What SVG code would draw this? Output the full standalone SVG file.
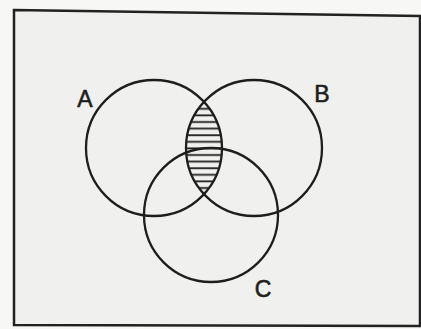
<svg xmlns="http://www.w3.org/2000/svg" width="421" height="329" viewBox="0 0 421 329">
<defs>
<style>
.c{fill:none;stroke:#1e1e1e;stroke-width:2.3}
.lbl{font-family:"Liberation Sans",Arial,sans-serif;font-size:23px;fill:#1e1e1e;stroke:#1e1e1e;stroke-width:0.6;text-anchor:middle}
</style>
<pattern id="hatch" patternUnits="userSpaceOnUse" width="10" height="6.6" y="2">
<line x1="0" y1="1.2" x2="10" y2="1.2" stroke="#1e1e1e" stroke-width="1.8"/>
</pattern>
<clipPath id="clipA"><circle cx="154" cy="148" r="68"/></clipPath>
</defs>
<rect width="421" height="329" fill="#f7f7f5"/>
<polygon points="14,10 420,16 420,326 14,325" fill="#f0f0ee" stroke="#222" stroke-width="2.5"/>
<g id="lens">
<circle cx="254" cy="148" r="68" fill="url(#hatch)" clip-path="url(#clipA)"/>
</g>
<g id="A">
<circle class="c" cx="154" cy="148" r="68"/>
<text class="lbl" x="85" y="107">A</text>
</g>
<g id="B">
<circle class="c" cx="254" cy="148" r="68"/>
<text class="lbl" x="322" y="102">B</text>
</g>
<g id="C">
<circle class="c" cx="211" cy="215" r="67"/>
<text class="lbl" x="263" y="297">C</text>
</g>
<g id="connectors"/>
</svg>
